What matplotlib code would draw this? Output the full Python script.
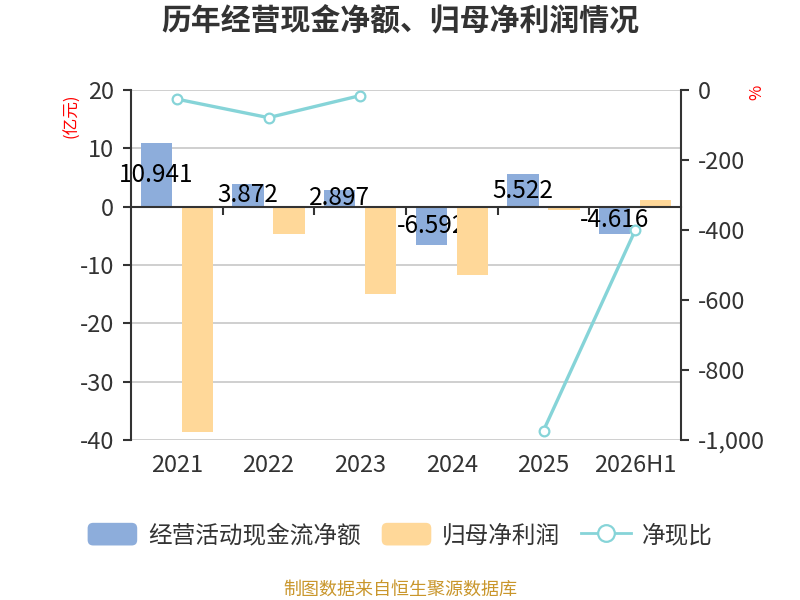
import matplotlib
matplotlib.use("Agg")
import matplotlib.pyplot as plt
import numpy as np
from matplotlib.patches import FancyBboxPatch, Patch
from matplotlib.lines import Line2D
from matplotlib.legend_handler import HandlerPatch
from matplotlib.ticker import FuncFormatter

plt.rcParams['font.family'] = ['Noto Sans CJK SC', 'DejaVu Sans']
plt.rcParams['axes.unicode_minus'] = False

# Dados
anos = ["2021", "2022", "2023", "2024", "2025", "2026H1"]
fluxo_caixa = [10.941, 3.872, 2.897, -6.592, 5.522, -4.616]      # 经营活动现金流净额 (亿元)
lucro_liquido = [-38.7, -4.68, -14.9, -11.66, -0.57, 1.15]        # 归母净利润 (亿元)
razao = [-26, -79, -16, np.nan, -973, -401]                       # 净现比 (%)

AZUL = "#8DADDB"
LARANJA = "#FFD899"
CIANO = "#86D4D8"
ESCURO = "#333333"


class HandlerArredondado(HandlerPatch):
    def create_artists(self, legend, orig_handle, xdescent, ydescent,
                       width, height, fontsize, trans):
        p = FancyBboxPatch((-xdescent, -ydescent), width, height,
                           boxstyle="round,pad=0,rounding_size=4",
                           facecolor=orig_handle.get_facecolor(),
                           edgecolor="none", transform=trans)
        return [p]


fig = plt.figure(figsize=(8, 6), dpi=100)
ax = fig.add_axes([131 / 800, 1 - 440 / 600, 550 / 800, 350 / 600])
ax2 = ax.twinx()

x = np.arange(len(anos))
desloc = 0.224
larg = 0.34

ax.bar(x - desloc, fluxo_caixa, width=larg, color=AZUL, zorder=2)
for xi, v in zip(x, fluxo_caixa):
    ax.text(xi - desloc, v / 2, f"{v:.3f}", ha="center", va="center",
            fontsize=17.5, color="black", zorder=2.5, clip_on=False)
ax.bar(x + desloc, lucro_liquido, width=larg, color=LARANJA, zorder=3)

ax.set_xlim(-0.5, len(anos) - 0.5)
ax.set_ylim(-40, 20)
ax.set_yticks([20, 10, 0, -10, -20, -30, -40])
for g in [20, 10, -10, -20, -30, -40]:
    ax.axhline(g, color="#CCCCCC", linewidth=1.3, zorder=0)

# eixo x na linha do zero, com marcas entre as categorias
ax.spines["bottom"].set_position(("data", 0))
ax.spines["bottom"].set_color(ESCURO)
ax.spines["bottom"].set_linewidth(1.5)
ax.spines["bottom"].set_zorder(3.5)
ax.set_xticks(x[:-1] + 0.5)
ax.tick_params(axis="x", direction="out", length=6, width=1.5,
               color=ESCURO, labelbottom=False)
for xi, ano in zip(x, anos):
    ax.annotate(ano, (xi, 0), xycoords=("data", "axes fraction"),
                xytext=(0, -10), textcoords="offset points",
                ha="center", va="top", fontsize=17, color=ESCURO)

ax.spines["left"].set_color(ESCURO)
ax.spines["left"].set_linewidth(1.5)
ax.spines["top"].set_visible(False)
ax.spines["right"].set_visible(False)
ax.tick_params(axis="y", direction="out", length=6, width=1.5, color=ESCURO,
               labelsize=17, labelcolor=ESCURO, pad=6)

# eixo secundário: 净现比
ax2.plot(x, razao, color=CIANO, linewidth=2.4, marker="o", markersize=7,
         markerfacecolor="white", markeredgecolor=CIANO, markeredgewidth=1.6,
         zorder=5, clip_on=False)
ax2.set_ylim(-1000, 0)
ax2.set_yticks([0, -200, -400, -600, -800, -1000])
ax2.yaxis.set_major_formatter(FuncFormatter(lambda v, p: f"{int(v):,}"))
for lado in ["left", "top", "bottom"]:
    ax2.spines[lado].set_visible(False)
ax2.spines["right"].set_color(ESCURO)
ax2.spines["right"].set_linewidth(1.5)
ax2.tick_params(axis="y", direction="out", length=6, width=1.5, color=ESCURO,
                labelsize=17, labelcolor=ESCURO, pad=6)

fig.text(72 / 800, 1 - 116 / 600, "(亿元)", rotation=90, color="red",
         fontsize=12, ha="center", va="center")
fig.text(757 / 800, 1 - 92 / 600, "%", rotation=90, color="red",
         fontsize=12, ha="center", va="center")

fig.text(0.5, 1 - 22 / 600, "历年经营现金净额、归母净利润情况", ha="center",
         va="center", fontsize=21.5, fontweight="bold", color=ESCURO)

handles = [Patch(facecolor=AZUL), Patch(facecolor=LARANJA),
           Line2D([], [], color=CIANO, linewidth=2, marker="o", markersize=12,
                  markerfacecolor="white", markeredgewidth=1.6)]
fig.legend(handles, ["经营活动现金流净额", "归母净利润", "净现比"],
           loc="center", bbox_to_anchor=(0.5, 1 - 535 / 600), ncol=3,
           frameon=False, fontsize=17, handlelength=2.1, handleheight=1.1,
           handletextpad=0.45, columnspacing=0.9, labelcolor=ESCURO,
           handler_map={Patch: HandlerArredondado()})

fig.text(0.5, 1 - 590 / 600, "制图数据来自恒生聚源数据库", ha="center",
         va="center", fontsize=13, color="#C9962B")

fig.savefig("out.png", dpi=100)
